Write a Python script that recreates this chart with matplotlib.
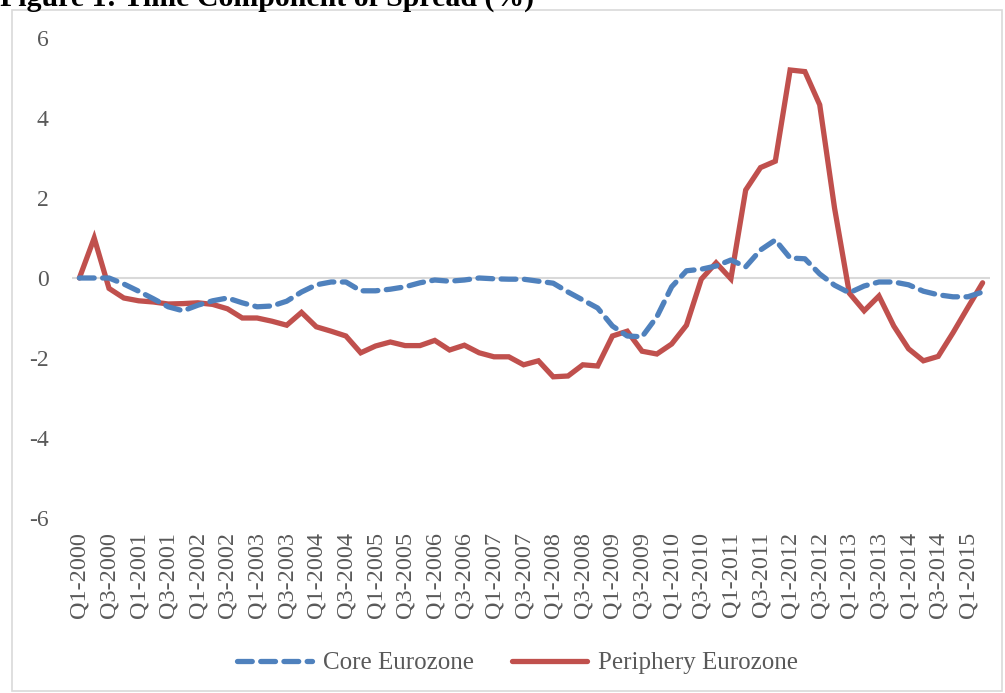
import numpy as np
import matplotlib.pyplot as plt
from matplotlib.patches import Rectangle

# quarterly labels Q1-2000 .. Q2-2015
quarters = [f"Q{q}-{y}" for y in range(2000, 2016) for q in range(1, 5)][:62]

core = [0.0, 0.0, 0.0, -0.15, -0.33, -0.52, -0.72, -0.82, -0.68, -0.57,
        -0.5, -0.62, -0.72, -0.7, -0.58, -0.35, -0.17, -0.1, -0.1, -0.32,
        -0.32, -0.28, -0.22, -0.12, -0.05, -0.08, -0.05, 0.0, -0.02, -0.03,
        -0.03, -0.08, -0.13, -0.35, -0.55, -0.75, -1.2, -1.45, -1.47, -0.97,
        -0.22, 0.18, 0.22, 0.3, 0.45, 0.28, 0.7, 0.95, 0.5, 0.48,
        0.1, -0.18, -0.37, -0.2, -0.1, -0.1, -0.17, -0.33, -0.42, -0.47,
        -0.47, -0.35]

periphery = [0.0, 1.0, -0.26, -0.5, -0.57, -0.6, -0.65, -0.64, -0.62, -0.66,
             -0.77, -1.0, -1.0, -1.08, -1.18, -0.86, -1.22, -1.33, -1.45, -1.87,
             -1.7, -1.6, -1.69, -1.69, -1.56, -1.8, -1.68, -1.87, -1.97, -1.97,
             -2.17, -2.07, -2.47, -2.45, -2.17, -2.2, -1.45, -1.33, -1.83, -1.9,
             -1.65, -1.18, -0.03, 0.38, -0.02, 2.2, 2.76, 2.92, 5.2, 5.16,
             4.33, 1.75, -0.38, -0.82, -0.45, -1.2, -1.77, -2.07, -1.96, -1.37,
             -0.74, -0.12]

plt.rcParams['font.family'] = ['Liberation Serif', 'DejaVu Serif']
grey = '#595959'

fig = plt.figure(figsize=(10.05, 6.93), dpi=100)
ax = fig.add_axes([72 / 1005, 1 - 518 / 693, 918 / 1005, 480 / 693])

x = np.arange(len(quarters))
ax.axhline(0, color='#D9D9D9', lw=1.5, zorder=1)
ax.plot(x, core, color='#4F81BD', lw=3.8, linestyle=(0, (2.8, 1.6)),
        dash_capstyle='round', label='Core Eurozone', zorder=3)
ax.plot(x, periphery, color='#C0504D', lw=3.8, solid_capstyle='round',
        solid_joinstyle='miter', label='Periphery Eurozone', zorder=2)

ax.set_xlim(-0.5, len(quarters) - 0.5)
ax.set_ylim(-6, 6)
ax.set_yticks([-6, -4, -2, 0, 2, 4, 6])
ax.set_yticklabels(['-6', '-4', '-2', '0', '2', '4', '6'])
ax.set_xticks(x[::2])
ax.set_xticklabels(quarters[::2], rotation=90)
ax.tick_params(axis='x', length=0, pad=10, labelsize=17.5, labelcolor=grey)
ax.tick_params(axis='y', length=0, pad=17, labelsize=17, labelcolor=grey)
for s in ax.spines.values():
    s.set_visible(False)

leg = fig.legend(loc='center', bbox_to_anchor=(0.515, 0.043), ncol=2,
                 frameon=False, fontsize=18, handlelength=3.0,
                 columnspacing=1.5, handletextpad=0.45)
for t in leg.get_texts():
    t.set_color(grey)

# outer chart border
fig.patches.append(Rectangle((12 / 1005, 2 / 693), 990 / 1005, 681 / 693,
                             transform=fig.transFigure, fill=False,
                             edgecolor='#D9D9D9', lw=1.2))
fig.text(0.0, 1 - 6 / 693, 'Figure 1: Time Component of Spread (%)',
         fontsize=21.5, fontweight='bold', va='baseline', ha='left')

fig.savefig('out.png', dpi=100)
